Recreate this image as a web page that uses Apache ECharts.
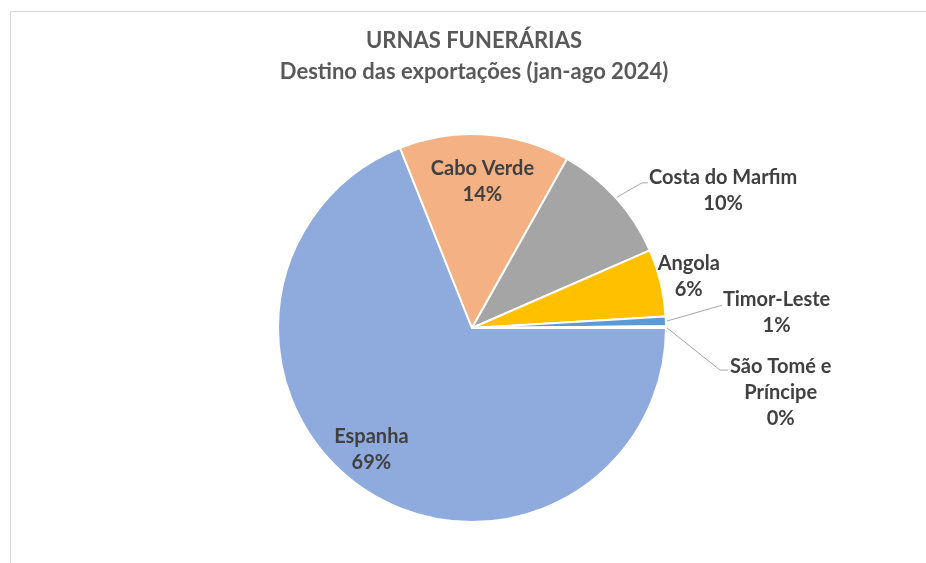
<!DOCTYPE html>
<html>
<head>
<meta charset="utf-8">
<script src="https://cdn.jsdelivr.net/npm/echarts/dist/echarts.min.js"></script>
<style>
  html, body { margin: 0; padding: 0; background: #ffffff; }
  #frame { position: absolute; left: 10px; top: 11px; width: 940px; height: 600px; border-left: 1px solid #d9d9d9; border-top: 1px solid #d9d9d9; }
  #chart { position: absolute; left: 0; top: 0; width: 926px; height: 563px; }
</style>
</head>
<body>
<div id="frame"></div>
<div id="chart"></div>
<script>
// ---- data ----
const categories = ['Espanha', 'Cabo Verde', 'Costa do Marfim', 'Angola', 'Timor-Leste', 'São Tomé e Príncipe'];
const shares = [68.95, 14.2, 10.3, 5.6, 0.8, 0.15];
const labelTextLines = [['Espanha'], ['Cabo Verde'], ['Costa do Marfim'], ['Angola'], ['Timor-Leste'], ['São Tomé e', 'Príncipe']];
const titleLines = ['URNAS FUNERÁRIAS', 'Destino das exportações (jan-ago 2024)'];

// ---- styles / layout ----
const sliceColors = ['#8FAADC', '#F4B183', '#A5A5A5', '#FFC000', '#5B9BD5', '#7F9ED6'];
const CX = 472, CY = 328, R = 194;
const FONT = 'Lato, Carlito, "Open Sans", sans-serif';
const labelPlacement = [
  { mode: 'inside', k: 1.58, dx: -12, dy: -9 },
  { mode: 'inside', k: 1.58, dx: 0, dy: 11 },
  { mode: 'leader', elbow: [26, -15], len2: 6, gap: 1, textDy: 8 },
  { mode: 'edge', dx: -4, dy: -6 },
  { mode: 'leader', elbow: [56, -16], len2: 0, gap: 1, textDy: 7 },
  { mode: 'leader', elbow: [54, 43], len2: 8, gap: 2, textDy: 22 }
];

const chart = echarts.init(document.getElementById('chart'), null, { renderer: 'canvas' });

const pieData = categories.map((name, i) => {
  const pl = labelPlacement[i];
  const isInside = pl.mode === 'inside';
  return {
    name: name,
    value: shares[i],
    itemStyle: { color: sliceColors[i] },
    label: { position: isInside ? 'inside' : 'outside' },
    labelLine: {
      show: pl.mode === 'leader',
      length: pl.mode === 'edge' ? 0 : 20,
      length2: 0
    }
  };
});

chart.setOption({
  animation: false,
  title: {
    text: titleLines.join('\n'),
    left: 474,
    textAlign: 'center',
    top: 25,
    padding: 0,
    textStyle: {
      fontFamily: FONT,
      fontSize: 22,
      fontWeight: 'bold',
      color: '#595959',
      lineHeight: 31
    }
  },
  series: [{
    type: 'pie',
    center: [CX, CY],
    radius: [0, R],
    startAngle: 0,
    clockwise: true,
    avoidLabelOverlap: false,
    silent: true,
    itemStyle: { borderColor: '#ffffff', borderWidth: 2 },
    label: {
      show: true,
      distanceToLabelLine: 1,
      formatter: function (p) {
        const lines = labelTextLines[p.dataIndex].concat([Math.round(p.percent) + '%']);
        return lines.map(t => '{c|' + t + '}').join('\n');
      },
      rich: {
        c: {
          align: 'center',
          fontFamily: FONT,
          fontSize: 20,
          fontWeight: 'bold',
          color: '#404040',
          lineHeight: 26
        }
      }
    },
    labelLine: {
      lineStyle: { color: '#A6A6A6', width: 1 }
    },
    labelLayout: function (params) {
      const pl = labelPlacement[params.dataIndex];
      const lr = params.labelRect;
      if (pl.mode === 'inside') {
        const cx = lr.x + lr.width / 2, cy = lr.y + lr.height / 2;
        return {
          x: CX + (cx - CX) * pl.k + pl.dx,
          y: CY + (cy - CY) * pl.k + pl.dy,
          align: 'center',
          verticalAlign: 'middle'
        };
      }
      if (pl.mode === 'edge') {
        return {
          x: lr.x + pl.dx,
          y: lr.y + lr.height / 2 + pl.dy,
          align: 'left',
          verticalAlign: 'middle'
        };
      }
      const p0 = params.labelLinePoints[0];
      const elbow = [p0[0] + pl.elbow[0], p0[1] + pl.elbow[1]];
      const end = [elbow[0] + pl.len2, elbow[1]];
      return {
        x: end[0] + pl.gap,
        y: end[1] + pl.textDy,
        align: 'left',
        verticalAlign: 'middle',
        labelLinePoints: [p0, elbow, end]
      };
    },
    data: pieData
  }]
});
</script>
</body>
</html>
